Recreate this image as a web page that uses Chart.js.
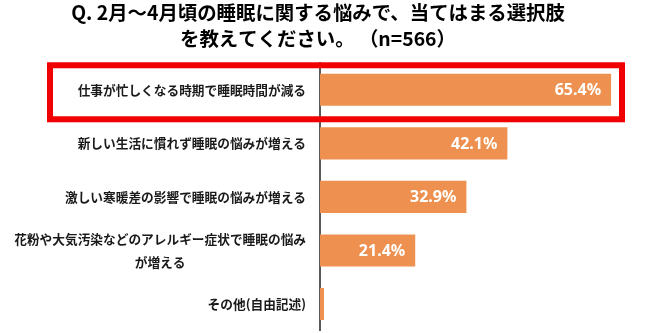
<!DOCTYPE html>
<html>
<head>
<meta charset="utf-8">
<script src="https://cdn.jsdelivr.net/npm/chart.js@4"></script>
<style>
  html, body { margin: 0; padding: 0; background: #fff; overflow: hidden; }
  #wrap { width: 650px; height: 341px; }
</style>
</head>
<body>
<div id="wrap"><canvas id="myChart"></canvas></div>
<script>
var titleLines = ['Q. 2月～4月頃の睡眠に関する悩みで、当てはまる選択肢', 'を教えてください。 （n=566）'];
var labels = [
    '仕事が忙しくなる時期で睡眠時間が減る',
    '新しい生活に慣れず睡眠の悩みが増える',
    '激しい寒暖差の影響で睡眠の悩みが増える',
    ['花粉や大気汚染などのアレルギー症状で睡眠の悩み', 'が増える'],
    'その他(自由記述)'
];
var values = [65.4, 42.1, 32.9, 21.4, 0.9];

var jpFont = '"Noto Sans CJK JP", "Noto Sans", sans-serif';

// category labels: block right aligned next to the axis, lines centred inside the block
var labelPlugin = {
    id: 'labelPlugin',
    afterDraw: function (chart) {
        var ctx = chart.ctx;
        var yScale = chart.scales.y;
        ctx.save();
        ctx.font = 'bold 12.7px ' + jpFont;
        ctx.fillStyle = '#1a1a1a';
        ctx.textBaseline = 'middle';
        ctx.textAlign = 'center';
        labels.forEach(function (lab, i) {
            var lines = Array.isArray(lab) ? lab : [lab];
            var w = 0;
            lines.forEach(function (l) { w = Math.max(w, ctx.measureText(l).width); });
            var right = yScale.right - 14;
            var cx = right - w / 2;
            var cy = yScale.getPixelForValue(i);
            var lh = 23;
            lines.forEach(function (l, j) {
                ctx.fillText(l, cx, cy + (j - (lines.length - 1) / 2) * lh);
            });
        });
        ctx.restore();
    }
};

// value labels inside bars + red highlight box on first row
var valuePlugin = {
    id: 'valuePlugin',
    afterDatasetsDraw: function (chart) {
        var ctx = chart.ctx;
        var meta = chart.getDatasetMeta(0);
        ctx.save();
        ctx.font = 'bold 16px "Noto Sans", sans-serif';
        ctx.fillStyle = '#ffffff';
        ctx.textAlign = 'right';
        ctx.textBaseline = 'middle';
        meta.data.forEach(function (bar, i) {
            if (values[i] < 5) return;
            ctx.fillText(values[i].toFixed(1) + '%', bar.x - 10, bar.y + 1);
        });
        var c = meta.data[0].y;
        ctx.strokeStyle = '#f00000';
        ctx.lineWidth = 6;
        ctx.strokeRect(50, c - 24.5, chart.chartArea.right - 14 - 50, 54);
        ctx.restore();
    }
};

var ctx = document.getElementById('myChart');
var myChart = new Chart(ctx, {
    type: 'bar',
    data: {
        labels: labels,
        datasets: [{
            data: values,
            backgroundColor: '#ee9150',
            borderWidth: 0,
            barPercentage: 0.6,
            categoryPercentage: 1
        }]
    },
    options: {
        indexAxis: 'y',
        responsive: true,
        maintainAspectRatio: false,
        animation: false,
        layout: { padding: { left: 0, right: 14, top: 0, bottom: 3 } },
        plugins: {
            legend: { display: false },
            tooltip: { enabled: false },
            title: {
                display: true,
                text: titleLines,
                color: '#000',
                font: { family: jpFont, size: 19.4, weight: 'bold', lineHeight: 1.34 },
                padding: { top: 0, bottom: 11 }
            }
        },
        scales: {
            x: {
                display: false,
                min: 0,
                max: 71
            },
            y: {
                grid: { display: false },
                border: { display: true, color: '#595959', width: 2 },
                ticks: { color: 'rgba(0,0,0,0)' },
                afterFit: function (scale) { scale.width = 320; }
            }
        }
    },
    plugins: [labelPlugin, valuePlugin]
});
</script>
</body>
</html>
